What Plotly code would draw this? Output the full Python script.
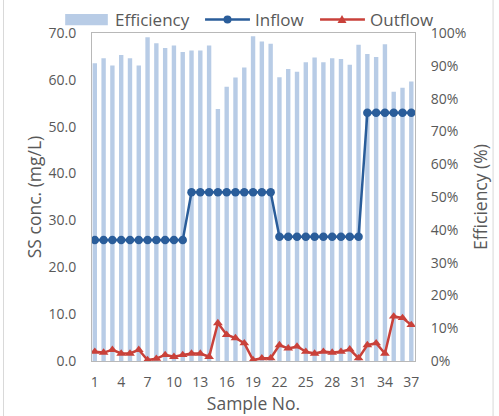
import plotly.graph_objects as go

samples = list(range(1, 38))
inflow = [25.8]*11 + [36.0]*10 + [26.5]*10 + [53.0]*6
outflow = [2.0, 1.8, 2.4, 1.6, 1.6, 2.4, 0.2, 0.5, 1.3, 0.9, 1.3, 1.6, 1.6, 0.9,
           8.1, 5.6, 4.9, 3.8, 0.2, 0.6, 0.6, 3.4, 2.7, 3.1, 2.0, 1.6, 2.0, 1.8,
           2.0, 2.5, 0.6, 3.4, 3.8, 1.6, 9.5, 9.2, 7.7]
efficiency = [0.908, 0.923, 0.901, 0.933, 0.923, 0.901, 0.987, 0.969, 0.954, 0.962,
              0.942, 0.947, 0.947, 0.962, 0.768, 0.836, 0.864, 0.895, 0.990, 0.974,
              0.967, 0.865, 0.890, 0.882, 0.911, 0.925, 0.911, 0.923, 0.921, 0.903,
              0.964, 0.936, 0.927, 0.966, 0.821, 0.833, 0.852]
xticks = list(range(1, 38, 3))

FONT = "Open Sans"
GREY = "#595959"
BAR_C = "rgb(184,204,230)"
IN_C = "#2a5d9a"
OUT_C = "#c9413a"

fig = go.Figure()
fig.add_trace(go.Bar(x=samples, y=efficiency, name="Efficiency", width=0.5,
                     marker=dict(color=BAR_C, line=dict(width=0)),
                     yaxis="y", showlegend=False))
fig.add_trace(go.Scatter(x=samples, y=inflow, name="Inflow", mode="lines+markers",
                         line=dict(color=IN_C, width=2.5),
                         marker=dict(symbol="circle", size=8.5, color=IN_C),
                         yaxis="y2", showlegend=False))
fig.add_trace(go.Scatter(x=samples, y=outflow, name="Outflow", mode="lines+markers",
                         line=dict(color=OUT_C, width=2.5),
                         marker=dict(symbol="triangle-up", size=8.5, color=OUT_C),
                         yaxis="y2", showlegend=False))

fig.update_layout(
    width=499, height=416,
    margin=dict(l=92, r=84, t=33, b=55),
    paper_bgcolor="white", plot_bgcolor="white",
    font=dict(family=FONT, size=14, color=GREY),
    showlegend=False,
    bargap=0.5,
    xaxis=dict(range=[0.68, 37.42], tickvals=xticks, ticktext=[str(v) for v in xticks],
               showgrid=False, zeroline=False, showline=True, linecolor="#b8b8b8",
               mirror=True, ticks="", ticklabelstandoff=8,
               tickfont=dict(size=14, color=GREY),
               title=dict(text="Sample No.", font=dict(size=17.5, color=GREY), standoff=0)),
    yaxis=dict(range=[0, 1.0], dtick=0.1, tickformat=".0%", side="right",
               showgrid=False, zeroline=False, showline=True, linecolor="#b8b8b8",
               ticks="", ticklabelstandoff=12, tickfont=dict(size=14, color=GREY),
               title=dict(text="Efficiency (%)", font=dict(size=17.5, color=GREY), standoff=9)),
    yaxis2=dict(range=[0, 70], dtick=10, tickformat=".1f", side="left", overlaying="y",
                showgrid=False, zeroline=False, showline=True, linecolor="#b8b8b8",
                ticks="", ticklabelstandoff=12, tickfont=dict(size=14, color=GREY),
                title=dict(text="SS conc. (mg/L)", font=dict(size=17.5, color=GREY), standoff=2)),
)

# faint outer chart border (left/right edges)
for xv in (-0.274, 1.2417):
    fig.add_shape(type="line", xref="paper", yref="paper", x0=xv, x1=xv, y0=-0.2, y1=1.15,
                  line=dict(color="#d9d9d9", width=1))

# legend (drawn as key glyphs + text above the plot)
LY = 1.041
fig.add_shape(type="rect", xref="paper", yref="paper", x0=-0.083, x1=0.049,
              y0=LY - 0.017, y1=LY + 0.017, fillcolor=BAR_C, line=dict(width=0))
fig.add_shape(type="line", xref="paper", yref="paper", x0=0.350, x1=0.489, y0=LY, y1=LY,
              line=dict(color=IN_C, width=2.5))
fig.add_shape(type="circle", xref="paper", yref="paper", xsizemode="pixel", ysizemode="pixel",
              xanchor=0.4195, yanchor=LY, x0=-4, x1=4, y0=-4, y1=4,
              fillcolor=IN_C, line=dict(color=IN_C, width=0))
fig.add_shape(type="line", xref="paper", yref="paper", x0=0.706, x1=0.845, y0=LY, y1=LY,
              line=dict(color=OUT_C, width=2.5))
fig.add_shape(type="path", xref="paper", yref="paper", xsizemode="pixel", ysizemode="pixel",
              xanchor=0.774, yanchor=LY, path="M -4.5 -3.5 L 4.5 -3.5 L 0 4.5 Z",
              fillcolor=OUT_C, line=dict(color=OUT_C, width=0))
for txt, xv in (("Efficiency", 0.066), ("Inflow", 0.499), ("Outflow", 0.853)):
    fig.add_annotation(text=txt, xref="paper", yref="paper", x=xv, y=LY,
                       xanchor="left", yanchor="middle", showarrow=False,
                       font=dict(family=FONT, size=17, color=GREY))

fig.write_html("out.html")
